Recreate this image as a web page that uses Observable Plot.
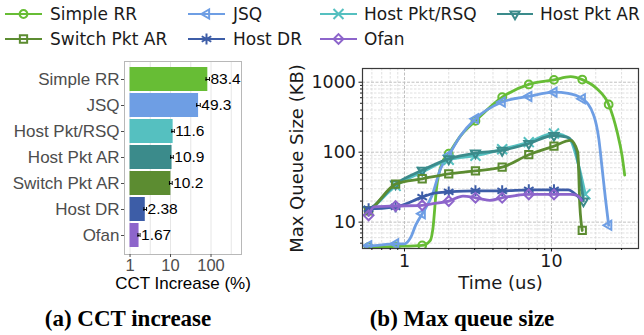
<!DOCTYPE html>
<html><head><meta charset="utf-8">
<script src="https://cdn.jsdelivr.net/npm/d3@7"></script>
<script src="https://cdn.jsdelivr.net/npm/@observablehq/plot@0.6"></script>
<style>
html,body{margin:0;padding:0;background:#fff;}
#page{position:relative;width:644px;height:335px;overflow:hidden;}
#page > svg{position:absolute;}
</style></head><body><div id="page"></div>
<script>
// ---------- data ----------
const categories = ["Simple RR","JSQ","Host Pkt/RSQ","Host Pkt AR","Switch Pkt AR","Host DR","Ofan"];
const seriesColors = ["#67bd35","#6e9ee4","#55c0c0","#3b8b8b","#5c8c31","#3d5da7","#8d65cb"];
const cctValues = [83.4, 49.3, 11.6, 10.9, 10.2, 2.38, 1.67];
const cctErrors = [8, 5, 0.8, 0.8, 0.8, 0.18, 0.1];
const cctLabels = ["83.4","49.3","11.6","10.9","10.2","2.38","1.67"];
const cctTicks = [1, 10, 100];
const cctGrid = [1, 3.162, 10, 31.62, 100, 316.2];

const timeTicks = [1, 10];
const timeMinor = [0.6,0.7,0.8,0.9,2,3,4,5,6,7,8,9,20,30];
const queueTicks = [10, 100, 1000];
const queueMinor = [5,6,7,8,9,20,30,40,50,60,70,80,90,200,300,400,500,600,700,800,900];

// [time (us), max queue (KB), marker shown]
const simpleRR = [[0.55,4.4,0],[0.57,4.4,1],[0.87,4.5,1],[1.32,4.65,1],[1.5,5.5,0],[1.56,8,0],[1.65,30,0],[1.8,70,0],[2.0,95,1],[2.4,170,0],[3.04,280,1],[4.62,610,1],[7.01,930,1],[10.4,1080,1],[13.5,1200,0],[16.2,1090,1],[20.4,805,0],[24.5,480,1],[28,193,0],[30.2,90,0],[31.5,47,0]];
const jsq = [[0.55,4.6,0],[0.57,4.6,1],[0.87,4.9,1],[1.0,4.9,0],[1.1,6,0],[1.19,9,0],[1.32,13.2,1],[1.54,24,0],[1.76,58,0],[2.0,90,1],[2.4,170,0],[3.04,300,1],[4.62,520,1],[7.01,625,1],[10.4,720,1],[13,690,0],[16.2,580,1],[19.4,334,0],[21,155,0],[22,65,0],[23.3,21.6,0],[24.5,9,1]];
const hostPktRSQ = [[0.55,13.9,0],[0.57,14.5,1],[0.87,33,1],[1.32,52,1],[2.0,78,1],[3.04,89,1],[4.62,110,1],[7.01,139,1],[10.4,185,1],[12,175,0],[13.5,147,0],[15.3,65,0],[17.0,25,1]];
const hostPktAR = [[0.55,14.5,0],[0.57,15,1],[0.87,35,1],[1.32,55,1],[2.0,80,1],[3.04,97,1],[4.62,106,1],[7.01,133,1],[10.4,173,1],[12.8,164,0],[14.6,112,0],[15.3,64,0],[16.5,20,1]];
const switchPktAR = [[0.55,14,0],[0.57,14.5,1],[0.87,35,1],[1.32,41.7,1],[2.0,49,1],[3.04,54,1],[4.62,61,1],[7.01,92,1],[10.4,122,1],[13.5,147,0],[15.1,100,0],[15.6,17,0],[16.2,7.6,1]];
const hostDR = [[0.55,15.5,0],[0.57,15.5,1],[0.87,16.5,1],[1.32,22.8,1],[1.6,26,0],[2.0,27,1],[3.04,28,1],[4.62,28,1],[7.01,29,1],[10.4,29,1],[13,29,0],[15.3,23,0],[16.2,21,0]];
const ofan = [[0.57,12.5,1],[0.62,16.5,0],[0.87,17,1],[1.32,17.4,1],[1.6,18.5,0],[2.0,20,1],[2.5,23.5,0],[3.04,22.3,1],[3.8,20.5,0],[4.62,22.3,1],[5.7,24,0],[7.01,24.9,1],[10.4,24.9,1],[13.5,25,0],[15,24,0],[16,20.4,0]];
const queueSeries = [simpleRR, jsq, hostPktRSQ, hostPktAR, switchPktAR, hostDR, ofan];

// ---------- symbols ----------
const triLeft = {draw(ctx, size){ const r = Math.sqrt(size/Math.PI)*1.25; ctx.moveTo(-r,0); ctx.lineTo(r*0.5,-r*0.866); ctx.lineTo(r*0.5,r*0.866); ctx.closePath(); }};
const triDown = {draw(ctx, size){ const r = Math.sqrt(size/Math.PI)*1.25; ctx.moveTo(0,r); ctx.lineTo(-r*0.866,-r*0.5); ctx.lineTo(r*0.866,-r*0.5); ctx.closePath(); }};
const symbols = [d3.symbolCircle, triLeft, d3.symbolTimes, triDown, d3.symbolSquare, d3.symbolAsterisk, d3.symbolDiamond2];
const symR = [3.9, 4.2, 4.6, 4.2, 4.1, 5.2, 4.4];

const page = document.getElementById("page");

// ---------- left: CCT increase ----------
const cctRows = categories.map((name, i) => ({name, value: cctValues[i], err: cctErrors[i], label: cctLabels[i]}));
const sansL = "'Liberation Sans', Arial, Helvetica, sans-serif";
const left = Plot.plot({
  width: 260, height: 245,
  marginLeft: 124, marginRight: 19, marginTop: 11, marginBottom: 41,
  style: {fontFamily: sansL, fontSize: "16px", background: "transparent", overflow: "visible"},
  x: {type: "log", domain: [0.73, 566]},
  y: {type: "band", domain: categories, paddingInner: 0.06, paddingOuter: 0.12},
  color: {domain: categories, range: seriesColors},
  marks: [
    Plot.ruleX(cctGrid, {stroke: "#e6e6e6", strokeWidth: 1}),
    Plot.barX(cctRows, {y: "name", x1: 1, x2: "value", fill: "name"}),
    Plot.ruleY(cctRows, {y: "name", x1: d => d.value - d.err, x2: d => d.value + d.err, stroke: "#000", strokeWidth: 1}),
    Plot.tickX(cctRows, {y: "name", x: d => d.value - d.err, insetTop: 10, insetBottom: 10, stroke: "#000", strokeWidth: 1}),
    Plot.tickX(cctRows, {y: "name", x: d => d.value + d.err, insetTop: 10, insetBottom: 10, stroke: "#000", strokeWidth: 1}),
    Plot.text(cctRows, {y: "name", x: d => d.value + d.err, text: "label", textAnchor: "start", dx: 1, fontSize: 15.5, fill: "#000"}),
    Plot.frame({stroke: "#b8b8b8"}),
    Plot.axisY({tickSize: 3, tickPadding: 2, fontSize: 17, color: "#4d4d4d", label: null}),
    Plot.axisX({ticks: cctTicks, tickFormat: d => String(d), tickSize: 3, tickPadding: 2, fontSize: 16.5, color: "#4d4d4d", label: null}),
    Plot.text(["CCT Increase (%)"], {text: d => d, frameAnchor: "bottom", lineAnchor: "middle", textAnchor: "middle", dy: 29, fontSize: 17, fill: "#000"})
  ]
});
left.style.left = "0px"; left.style.top = "50px";
page.appendChild(left);

// ---------- right: max queue size ----------
const sansR = "'DejaVu Sans', 'Liberation Sans', sans-serif";
const seriesMarks = [];
queueSeries.forEach((arr, i) => {
  const rows = arr.map(([t, v, m]) => ({t, v, m}));
  seriesMarks.push(Plot.line(rows, {x: "t", y: "v", stroke: seriesColors[i], strokeWidth: 2.8, curve: "monotone-x", clip: true}));
  seriesMarks.push(Plot.dot(rows.filter(d => d.m), {x: "t", y: "v", symbol: symbols[i], r: symR[i], stroke: seriesColors[i], strokeWidth: 2, fill: "none", clip: true}));
});
const right = Plot.plot({
  width: 384, height: 240,
  marginLeft: 102, marginRight: 6, marginTop: 13, marginBottom: 47,
  style: {fontFamily: sansR, fontSize: "17px", background: "transparent", overflow: "visible"},
  x: {type: "log", domain: [0.518, 39.1]},
  y: {type: "log", domain: [4.2, 1570]},
  marks: [
    Plot.ruleX(timeMinor, {stroke: "#d8d8d8", strokeWidth: 0.8, strokeDasharray: "2.5,1.5"}),
    Plot.ruleY(queueMinor, {stroke: "#d8d8d8", strokeWidth: 0.8, strokeDasharray: "2.5,1.5"}),
    Plot.ruleX(timeTicks, {stroke: "#c0c0c0", strokeWidth: 1, strokeDasharray: "3,1.5"}),
    Plot.ruleY(queueTicks, {stroke: "#c0c0c0", strokeWidth: 1, strokeDasharray: "3,1.5"}),
    ...seriesMarks,
    Plot.frame({stroke: "#3a3a3a", strokeWidth: 1.2}),
    Plot.axisX({ticks: timeTicks, tickFormat: d => String(d), tickSize: 3.5, tickPadding: 3, fontSize: 17.5, color: "#1a1a1a", label: null}),
    Plot.axisX({ticks: timeMinor, tickFormat: () => "", tickSize: 2, color: "#1a1a1a", label: null}),
    Plot.axisY({ticks: queueTicks, tickFormat: d => String(d), tickSize: 3.5, tickPadding: 3, fontSize: 17.5, color: "#1a1a1a", label: null}),
    Plot.axisY({ticks: queueMinor, tickFormat: () => "", tickSize: 2, color: "#1a1a1a", label: null}),
    Plot.text(["Time (us)"], {text: d => d, frameAnchor: "bottom", lineAnchor: "middle", textAnchor: "middle", dy: 35, fontSize: 18, fill: "#1a1a1a"}),
    Plot.text(["Max Queue Size (KB)"], {text: d => d, frameAnchor: "left", lineAnchor: "middle", textAnchor: "middle", dx: -65, rotate: -90, fontSize: 18, fill: "#1a1a1a"})
  ]
});
right.style.left = "260px"; right.style.top = "55px";
page.appendChild(right);

// ---------- legend and captions ----------
const over = d3.create("svg").attr("width", 644).attr("height", 335).style("left", "0px").style("top", "0px").style("pointer-events", "none");
const cols = [{x0: 5, x1: 42, tx: 50}, {x0: 188, x1: 225, tx: 233}, {x0: 320, x1: 357, tx: 364}, {x0: 497, x1: 533, tx: 540}];
const rowsY = [14, 39];
const slots = [[0,0],[0,1],[0,2],[0,3],[1,0],[1,1],[1,2]];
categories.forEach((name, i) => {
  const [r, c] = slots[i];
  const col = cols[c], y = rowsY[r];
  const g = over.append("g");
  g.append("line").attr("x1", col.x0).attr("x2", col.x1).attr("y1", y).attr("y2", y).attr("stroke", seriesColors[i]).attr("stroke-width", 2);
  g.append("path").attr("transform", `translate(${(col.x0 + col.x1) / 2},${y})`)
    .attr("d", d3.symbol(symbols[i], Math.PI * symR[i] * symR[i])())
    .attr("fill", "none").attr("stroke", seriesColors[i]).attr("stroke-width", 2);
  g.append("text").attr("x", col.tx).attr("y", y).attr("dy", "0.35em")
    .attr("font-family", sansR).attr("font-size", 17).attr("fill", "#1a1a1a").text(name);
});
const captions = [{text: "(a) CCT increase", x: 128}, {text: "(b) Max queue size", x: 462}];
captions.forEach(c => {
  over.append("text").attr("x", c.x).attr("y", 326).attr("text-anchor", "middle")
    .attr("font-family", "'Liberation Serif', 'Times New Roman', serif").attr("font-weight", "bold")
    .attr("font-size", 23).attr("fill", "#000").text(c.text);
});
page.insertBefore(over.node(), page.firstChild);
</script>
</body></html>
